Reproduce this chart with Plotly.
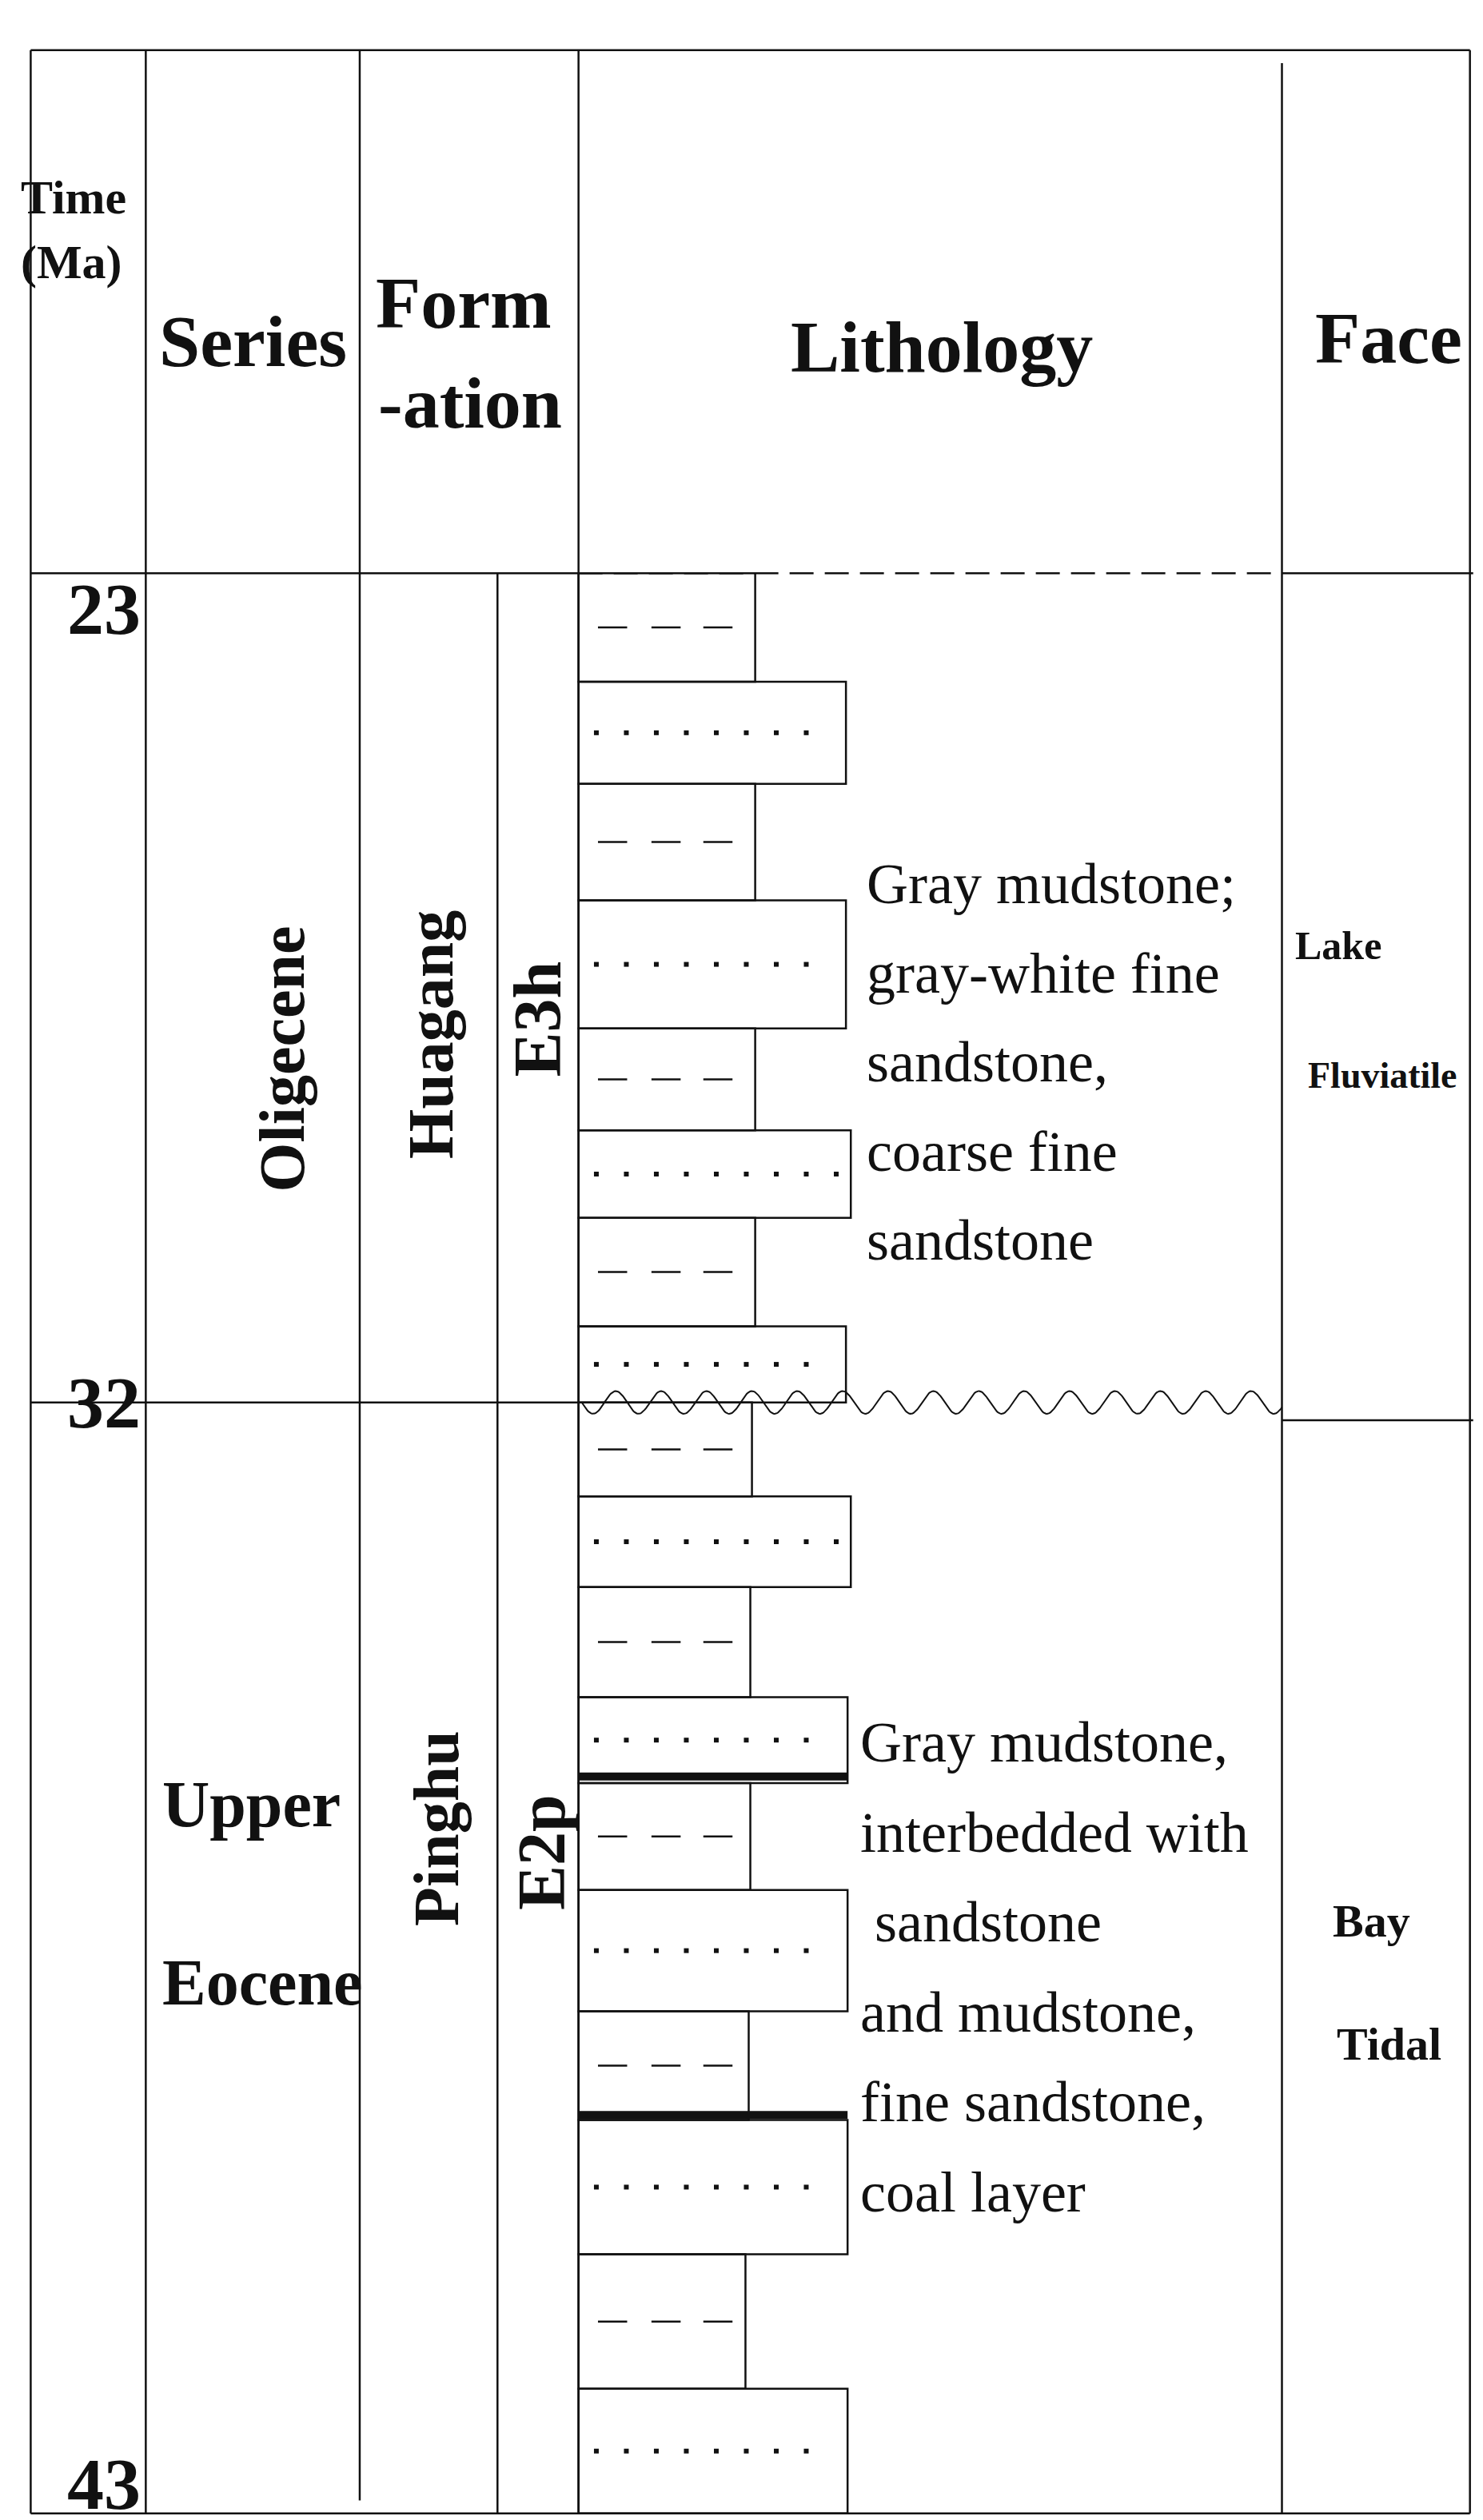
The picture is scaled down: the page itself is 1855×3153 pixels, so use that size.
import plotly.graph_objects as go
import numpy as np

# Layers (top, bottom in chart units, type, right edge of column)
layer_top    = [350, 417, 480, 552, 631, 694, 748, 815, 862, 920, 976, 1044, 1097, 1163, 1238, 1305, 1388, 1471]
layer_bottom = [417, 480, 552, 631, 694, 748, 815, 862, 920, 976, 1044, 1097, 1163, 1238, 1305, 1388, 1471, 1548]
layer_type   = ["mud","sand","mud","sand","mud","sand","mud","sand","mud","sand","mud","sand","mud","sand","mud","sand","mud","sand"]
layer_right  = [462, 518, 462, 518, 462, 521, 462, 518, 460, 521, 459, 519, 459, 519, 458, 519, 456, 519]
coal_y = [1093, 1302]

time_labels = ["23", "32", "43"]
time_pos = [372, 862, 1530]

BLACK = "#111111"
FONT = "Liberation Serif"
fig = go.Figure()
shapes = []
def line(x0, y0, x1, y1, w=2.5, dash=None):
    d = dict(type="line", xref="x", yref="y", x0=x0, y0=y0, x1=x1, y1=y1,
             line=dict(color=BLACK, width=w), layer="below")
    if dash: d["line"]["dash"] = dash
    shapes.append(d)

# frame and columns
line(15, 27, 903, 27)
line(15, 27, 15, 1548)
line(15, 1548, 903, 1548)
line(86, 27, 86, 1548)
line(218, 27, 218, 1540)
line(303, 350, 303, 1548)
line(353, 27, 353, 1548)
line(787, 35, 787, 1548)
line(903, 27, 903, 1548)
line(15, 350, 353, 350)
line(353, 350, 787, 350, dash="30px,14px")
line(787, 350, 905, 350)
line(15, 862, 353, 862)
line(787, 873, 905, 873)

# lithology
dot_x, dot_y, dash_segs_x, dash_segs_y = [], [], [], []
for t, b, ty, r in zip(layer_top, layer_bottom, layer_type, layer_right):
    shapes.append(dict(type="rect", xref="x", yref="y", x0=353, x1=r, y0=t, y1=b,
                       line=dict(color=BLACK, width=2.5), fillcolor="rgba(0,0,0,0)", layer="below"))
    mid = (t + b) / 2
    if ty == "sand":
        for xx in np.arange(364, r - 8, 18.5):
            dot_x.append(xx); dot_y.append(mid)
    else:
        for xs in (365, 398, 430):
            dash_segs_x += [xs, xs + 18, None]; dash_segs_y += [mid, mid, None]
for cy in coal_y:
    line(353, cy, 519, cy, w=10)

fig.add_trace(go.Scatter(x=dot_x, y=dot_y, mode="markers",
                         marker=dict(color=BLACK, size=6, symbol="square"), hoverinfo="skip"))
fig.add_trace(go.Scatter(x=dash_segs_x, y=dash_segs_y, mode="lines",
                         line=dict(color=BLACK, width=2.5), hoverinfo="skip"))
# unconformity wavy line
wx = np.linspace(355, 787, 600)
wy = 862 + 7 * np.sin((wx - 355) / 28 * 2 * np.pi)
fig.add_trace(go.Scatter(x=wx, y=wy, mode="lines", line=dict(color=BLACK, width=2), hoverinfo="skip"))

ann = []
def txt(x, y, s, size, bold=True, angle=0, anchor="center"):
    ann.append(dict(x=x, y=y, xref="x", yref="y", text=f"<b>{s}</b>" if bold else s,
                    showarrow=False, textangle=angle, xanchor=anchor,
                    font=dict(family=FONT, size=size, color=BLACK)))

txt(8, 118, "Time", 60, anchor="left")
txt(8, 158, "(Ma)", 60, anchor="left")
txt(152, 207, "Series", 92)
txt(282, 183, "Form", 92)
txt(286, 245, "-ation", 92)
txt(577, 210, "Lithology", 92)
txt(853, 205, "Face", 92)
for lab, p in zip(time_labels, time_pos):
    txt(60, p, lab, 92)
txt(170, 650, "Oligecene", 80, angle=-90)
txt(262, 635, "Huagang", 80, angle=-90)
txt(328, 625, "E3h", 84, angle=-90)
txt(265, 1125, "Pinghu", 80, angle=-90)
txt(330, 1140, "E2p", 84, angle=-90)
txt(95, 1110, "Upper", 82, anchor="left")
txt(95, 1220, "Eocene", 82, anchor="left")
txt(822, 580, "Lake", 50)
txt(849, 660, "Fluviatile", 46)
txt(842, 1182, "Bay", 58)
txt(853, 1258, "Tidal", 58)

d1 = ["Gray mudstone;", "gray-white fine", "sandstone,", "coarse fine", "sandstone"]
for i, s in enumerate(d1):
    txt(530, 542 + i * 55, s, 72, bold=False, anchor="left")
d2 = ["Gray mudstone,", "interbedded with", " sandstone", "and mudstone,", "fine sandstone,", "coal layer"]
for i, s in enumerate(d2):
    txt(526, 1072 + i * 55.5, s, 72, bold=False, anchor="left")

fig.update_layout(width=1855, height=3153, margin=dict(l=0, r=0, t=0, b=0),
                  paper_bgcolor="white", plot_bgcolor="white", showlegend=False,
                  shapes=shapes, annotations=ann,
                  xaxis=dict(range=[0, 915], visible=False, fixedrange=True),
                  yaxis=dict(range=[1556, 0], visible=False, fixedrange=True))
fig.write_html("out.html")
